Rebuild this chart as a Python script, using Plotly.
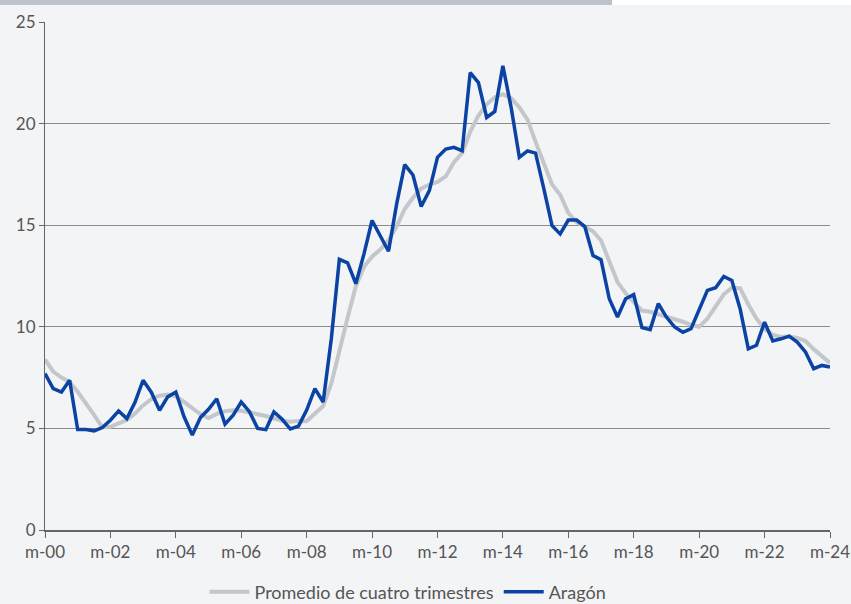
import pandas as pd
import plotly.graph_objects as go

# Quarterly periods 2000-Q1 .. 2024-Q1 (March of each quarter-start year labelled)
periods = pd.date_range("2000-03-01", "2024-03-01", freq="3MS")

aragon = [7.70, 6.96, 6.79, 7.37, 4.94, 4.94, 4.88, 5.04, 5.40, 5.86,
          5.48, 6.28, 7.37, 6.78, 5.89, 6.55, 6.79, 5.57, 4.67, 5.53,
          5.94, 6.46, 5.21, 5.65, 6.30, 5.82, 5.00, 4.94, 5.81, 5.45,
          4.97, 5.11, 5.90, 6.96, 6.30, 9.40, 13.32, 13.15, 12.12, 13.59,
          15.23, 14.49, 13.72, 16.05, 17.98, 17.47, 15.92, 16.70, 18.34, 18.75,
          18.83, 18.66, 22.51, 22.02, 20.30, 20.60, 22.84, 20.80, 18.34, 18.66,
          18.55, 16.80, 14.98, 14.57, 15.25, 15.25, 14.93, 13.51, 13.30, 11.38,
          10.48, 11.38, 11.59, 9.96, 9.86, 11.14, 10.48, 9.99, 9.73, 9.91,
          10.81, 11.79, 11.92, 12.48, 12.28, 10.89, 8.92, 9.09, 10.23, 9.30,
          9.41, 9.54, 9.25, 8.76, 7.94, 8.10, 8.02]

promedio = [8.40, 7.80, 7.50, 7.28, 6.80, 6.25, 5.65, 5.05, 5.08, 5.25,
            5.41, 5.73, 6.13, 6.44, 6.61, 6.67, 6.58, 6.30, 5.98, 5.69,
            5.51, 5.71, 5.85, 5.89, 5.87, 5.80, 5.70, 5.61, 5.48, 5.38,
            5.33, 5.37, 5.35, 5.70, 6.10, 7.20, 8.90, 10.45, 12.00, 12.95,
            13.45, 13.80, 14.25, 14.95, 15.80, 16.35, 16.80, 17.00, 17.13, 17.40,
            18.10, 18.55, 19.60, 20.40, 20.95, 21.30, 21.45, 21.25, 20.80, 20.20,
            19.10, 18.00, 17.00, 16.50, 15.60, 15.15, 14.95, 14.70, 14.25, 13.20,
            12.20, 11.65, 11.20, 10.80, 10.74, 10.63, 10.50, 10.36, 10.25, 10.10,
            10.00, 10.40, 11.00, 11.60, 11.92, 11.90, 11.10, 10.40, 9.90, 9.60,
            9.50, 9.52, 9.45, 9.30, 8.90, 8.55, 8.22]

tick_dates = pd.date_range("2000-03-01", "2024-03-01", freq="24MS")
tick_labels = ["m-00", "m-02", "m-04", "m-06", "m-08", "m-10", "m-12",
               "m-14", "m-16", "m-18", "m-20", "m-22", "m-24"]
y_ticks = [0, 5, 10, 15, 20, 25]

FONT = "Lato, 'Open Sans', sans-serif"

fig = go.Figure()
fig.add_trace(go.Scatter(x=periods, y=promedio, mode="lines",
                         name="Promedio de cuatro trimestres",
                         line=dict(color="#c3c7cb", width=4)))
fig.add_trace(go.Scatter(x=periods, y=aragon, mode="lines", name="Aragón",
                         line=dict(color="#0a43a3", width=3.5)))

L, R, T, B = 45, 21, 22, 74
W, H = 851, 604
pw, ph = W - L - R, H - T - B

def px_x(p):
    return (p - L) / pw

def px_y(p):
    return (H - B - p) / ph

fig.add_shape(type="rect", xref="paper", yref="paper",
              x0=px_x(0), x1=px_x(612), y0=px_y(5), y1=px_y(0),
              fillcolor="#bcc3cb", line=dict(width=0), layer="above")
fig.add_shape(type="rect", xref="paper", yref="paper",
              x0=px_x(612), x1=px_x(851), y0=px_y(5), y1=px_y(0),
              fillcolor="#ffffff", line=dict(width=0), layer="above")

fig.update_layout(
    width=W, height=H, autosize=False,
    margin=dict(l=L, r=R, t=T, b=B),
    paper_bgcolor="#f3f4f6", plot_bgcolor="#f3f4f6",
    font=dict(family=FONT, size=17, color="#555555"),
    showlegend=True,
    legend=dict(orientation="h", xref="container", x=408 / W, xanchor="center",
                yref="container", y=(H - 592) / H, yanchor="middle",
                font=dict(size=18, color="#555555"),
                bgcolor="rgba(0,0,0,0)", itemwidth=40),
    xaxis=dict(range=[periods[0], periods[-1]], tickvals=tick_dates,
               ticktext=tick_labels, showgrid=False, zeroline=False,
               showline=True, linecolor="#666666", linewidth=2,
               ticks="outside", ticklen=6, tickcolor="#666666",
               tickfont=dict(size=17, color="#555555"), automargin=False),
    yaxis=dict(range=[0, 25], tickvals=y_ticks, showgrid=True,
               gridcolor="#8c8c8c", gridwidth=1, zeroline=False,
               showline=True, linecolor="#666666", linewidth=1,
               ticks="outside", ticklen=5, tickcolor="#666666",
               tickfont=dict(size=17, color="#555555"), automargin=False),
)

fig.write_html("out.html", config={"displayModeBar": False},
               post_script="document.body.style.margin='0';"
                           "document.body.style.overflow='hidden';")
